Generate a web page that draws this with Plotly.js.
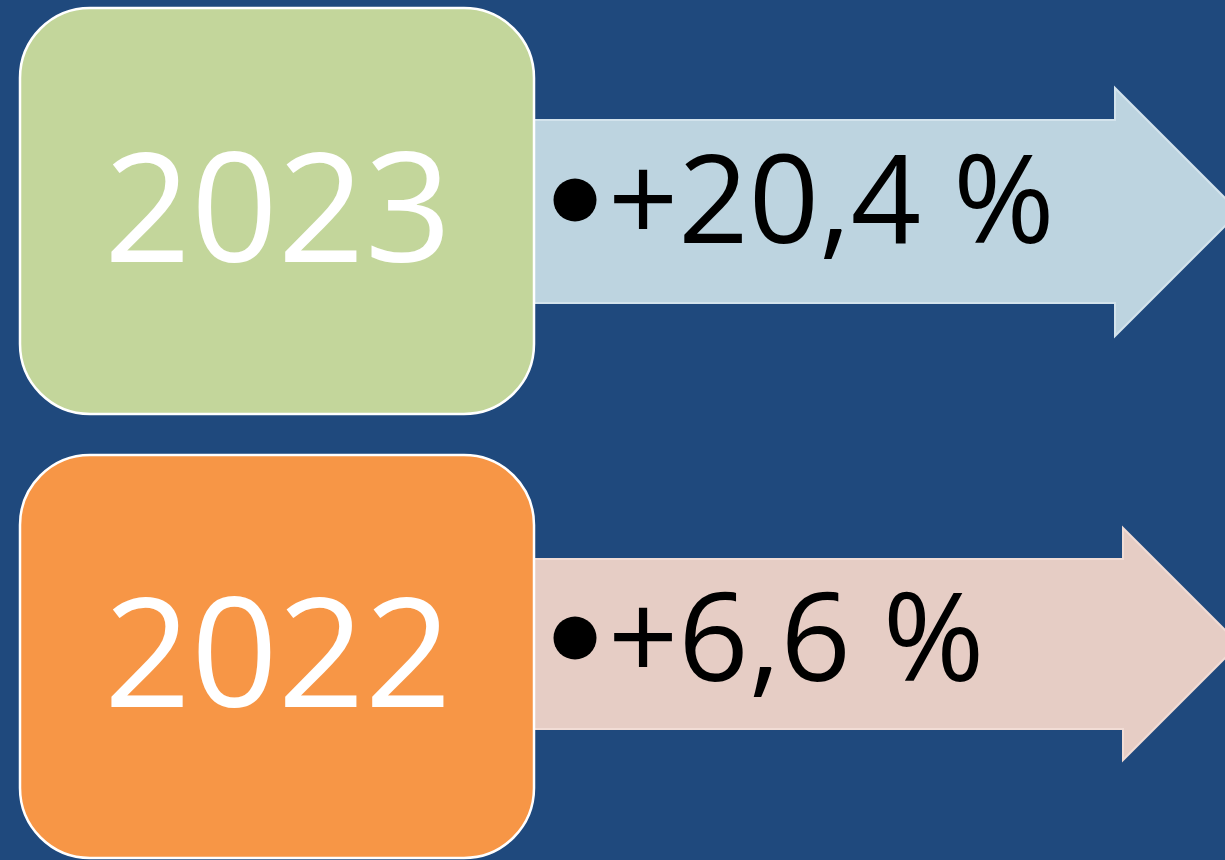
<!DOCTYPE html>
<html>
<head>
<meta charset="utf-8">
<script src="https://cdn.plot.ly/plotly-3.0.1.min.js"></script>
<style>html,body{margin:0;padding:0;background:#1F497D;}#chart{width:1225px;height:860px;}</style>
</head>
<body>
<div id="chart"></div>
<script>
// ---- data ----
const years = ['2023', '2022'];
const growthPct = [20.4, 6.6];

// ---- styles ----
const boxColors = ['#C3D69B', '#F79646'];
const arrowColors = ['#BDD4E0', '#E6CDC5'];
const arrowEdge = ['#D3E3EC', '#F1DCD5'];
const bg = '#1F497D';

// ---- layout geometry (pixels of the 1225x860 canvas) ----
const rows = [
  {boxTop: 8, boxBot: 414, shaftTop: 120, shaftBot: 303, headTop: 88, headBot: 336, headX: 1115, bulletY: 200},
  {boxTop: 455, boxBot: 858, shaftTop: 559, shaftBot: 729, headTop: 528, headBot: 760, headX: 1123, bulletY: 638}
];
const boxX0 = 20, boxX1 = 534, radius = 70;
const bulletX = 575, labelX = 606, labelShift = -5, yearShift = -8;

function fmt(v) { return '+' + v.toFixed(1).replace('.', ',') + ' %'; }

function roundRect(x0, y0, x1, y1, r) {
  const k = r * 0.5523;
  return `M ${x0 + r},${y0} L ${x1 - r},${y0} C ${x1 - r + k},${y0} ${x1},${y0 + r - k} ${x1},${y0 + r} ` +
         `L ${x1},${y1 - r} C ${x1},${y1 - r + k} ${x1 - r + k},${y1} ${x1 - r},${y1} L ${x0 + r},${y1} ` +
         `C ${x0 + r - k},${y1} ${x0},${y1 - r + k} ${x0},${y1 - r} L ${x0},${y0 + r} ` +
         `C ${x0},${y0 + r - k} ${x0 + r - k},${y0} ${x0 + r},${y0} Z`;
}
function arrow(g) {
  const half = (g.headBot - g.headTop) / 2;
  const tipX = g.headX + half;
  const tipY = (g.headTop + g.headBot) / 2;
  return `M ${boxX1 - 4},${g.shaftTop} L ${g.headX},${g.shaftTop} L ${g.headX},${g.headTop} ` +
         `L ${tipX},${tipY} L ${g.headX},${g.headBot} L ${g.headX},${g.shaftBot} L ${boxX1 - 4},${g.shaftBot} Z`;
}

const shapes = [];
years.forEach((y, i) => {
  const g = rows[i];
  shapes.push({type: 'path', xref: 'x', yref: 'y', path: arrow(g), fillcolor: arrowColors[i],
               line: {color: arrowEdge[i], width: 2}, layer: 'below'});
});
years.forEach((y, i) => {
  const g = rows[i];
  shapes.push({type: 'path', xref: 'x', yref: 'y', path: roundRect(boxX0, g.boxTop, boxX1, g.boxBot, radius),
               fillcolor: boxColors[i], line: {color: '#FFFFFF', width: 2.5}, layer: 'below'});
});

const annotations = [];
years.forEach((y, i) => {
  const g = rows[i];
  annotations.push({x: (boxX0 + boxX1) / 2 + 1, y: (g.boxTop + g.boxBot) / 2 + yearShift, xref: 'x', yref: 'y', text: y,
    showarrow: false, xanchor: 'center', yanchor: 'middle',
    font: {family: 'Open Sans, Noto Sans, sans-serif', size: 152, color: '#FFFFFF'}});
  annotations.push({x: labelX, y: g.bulletY + labelShift, xref: 'x', yref: 'y', text: fmt(growthPct[i]),
    showarrow: false, xanchor: 'left', yanchor: 'middle',
    font: {family: 'Open Sans, Noto Sans, sans-serif', size: 123, color: '#000000'}});
});

const bullets = {
  type: 'scatter', mode: 'markers',
  x: years.map(() => bulletX), y: rows.map(r => r.bulletY),
  marker: {size: 43, color: '#000000', line: {width: 0}},
  hoverinfo: 'skip', showlegend: false
};

const layout = {
  width: 1225, height: 860,
  margin: {l: 0, r: 0, t: 0, b: 0, pad: 0},
  paper_bgcolor: bg, plot_bgcolor: bg,
  xaxis: {range: [0, 1225], visible: false, fixedrange: true},
  yaxis: {range: [860, 0], visible: false, fixedrange: true},
  shapes: shapes, annotations: annotations, showlegend: false
};
Plotly.newPlot('chart', [bullets], layout, {displayModeBar: false, staticPlot: true});
</script>
</body>
</html>
